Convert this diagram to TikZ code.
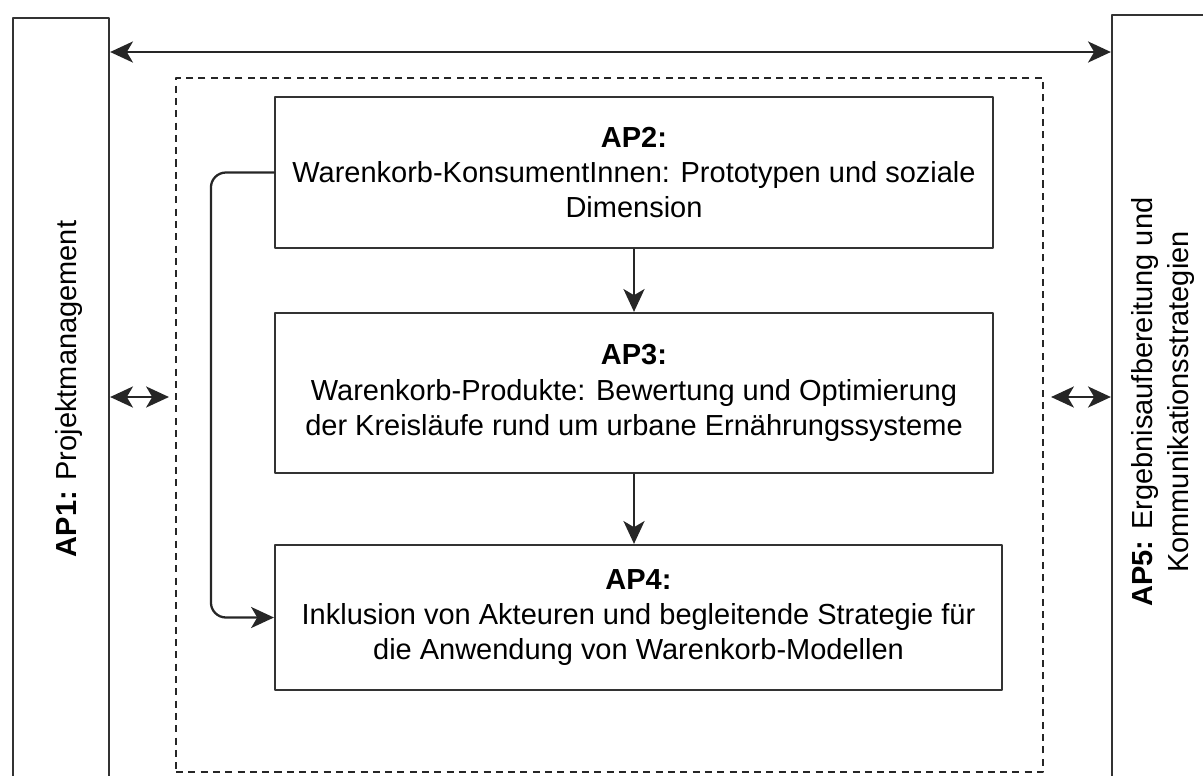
\documentclass[tikz,border=0pt]{standalone}
\usepackage{fontspec}
\setmainfont{Liberation Sans}
\usepackage{tikz}
\usetikzlibrary{arrows.meta}
\usetikzlibrary{positioning}
\usetikzlibrary{calc}

\begin{document}
\begin{tikzpicture}[line cap=round,line join=round,x=0.02cm,y=-0.02cm,
  box/.style={draw=black!80,line width=1.3pt,align=center,inner sep=0pt,font=\fontsize{16.5}{20}\selectfont},
  label/.style={rotate=90,align=center,font=\fontsize{16.5}{20}\selectfont},
  link/.style={line width=1.3pt,color=black!85},
  single/.style={link,-{Stealth[length=13pt,width=12pt,inset=3.5pt]}},
  double/.style={link,{Stealth[length=13pt,width=12pt,inset=3.5pt]}-{Stealth[length=13pt,width=12pt,inset=3.5pt]}}]
\useasboundingbox (0,0) rectangle (1203,775);
\clip (0,0) rectangle (1203,775);
% outer boxes
\node[box,minimum width=1.92cm,minimum height=15.24cm] (ap1) at (61,399) {};
\node[box,minimum width=2.2cm,minimum height=15.3cm] (ap5) at (1167,397.5) {};
\node[label] (ap1text) at (69,389) {\textbf{AP1:} Projektmanagement};
\node[label] (ap5text) at (1163,402) {\textbf{AP5:} Ergebnisaufbereitung und\\Kommunikationsstrategien};
% dashed frame
\node[draw=black!85,line width=1.3pt,dash pattern=on 4pt off 3pt,line cap=butt,minimum width=17.34cm,minimum height=13.88cm] (wp) at (609.5,425) {};
% inner work packages
\node[box,minimum width=14.36cm,minimum height=3.02cm] (ap2) at (634,172.5) {\textbf{AP2:}\\Warenkorb-KonsumentInnen: Prototypen und soziale\\Dimension};
\node[box,minimum width=14.36cm,minimum height=3.2cm] (ap3) at (634,393) {\textbf{AP3:}\\Warenkorb-Produkte: Bewertung und Optimierung\\der Kreisläufe rund um urbane Ernährungssysteme};
\node[box,minimum width=14.54cm,minimum height=2.9cm] (ap4) at (638.5,617.5) {\textbf{AP4:}\\Inklusion von Akteuren und begleitende Strategie für\\die Anwendung von Warenkorb-Modellen};
% connectors
\coordinate (top) at (0,52);
\coordinate (mid) at (0,397);
\draw[double] (ap1.east |- top) -- (ap5.west |- top);
\draw[double] (ap1.east |- mid) -- ([xshift=-0.12cm]wp.west |- mid);
\draw[double] ([xshift=0.14cm]wp.east |- mid) -- (ap5.west |- mid);
\draw[single] (ap2) -- (ap3);
\draw[single] (ap3.south) -- (ap3.south |- ap4.north);
\draw[single,rounded corners=0.3cm] (ap2.west) -- ++(-63,0) |- (ap4.west);
\end{tikzpicture}
\end{document}
